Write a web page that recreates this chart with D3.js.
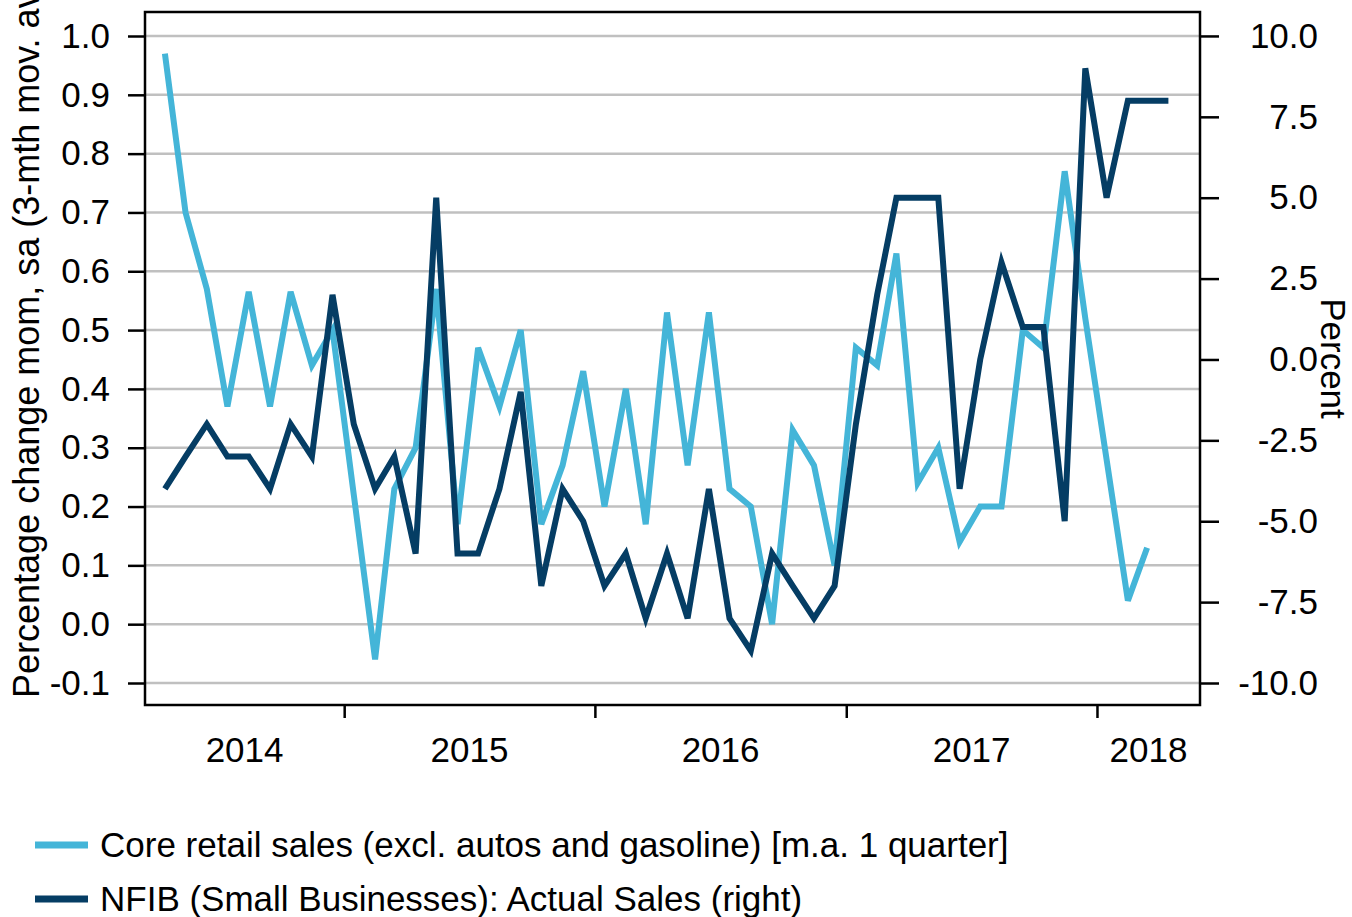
<!DOCTYPE html>
<html>
<head>
<meta charset="utf-8">
<script src="https://cdn.jsdelivr.net/npm/d3@7"></script>
<style>
  body { margin: 0; background: #fff; }
  text { font-family: "Liberation Sans", Arial, sans-serif; fill: #000; }
</style>
</head>
<body>
<div id="chart"></div>
<script>
// monthly observations, Apr 2014 .. Apr 2018 (plotted mid-month)
var firstMonth = new Date(2014, 3, 15),
    lastMonth = new Date(2018, 3, 15);

// core retail sales, % mom (left axis), Apr 2014 .. Mar 2018
var coreRetail = [0.97, 0.70, 0.57, 0.37, 0.565, 0.37, 0.565, 0.44, 0.50, 0.22,
                  -0.06, 0.23, 0.30, 0.57, 0.17, 0.47, 0.37, 0.50, 0.17, 0.27,
                  0.43, 0.20, 0.40, 0.17, 0.53, 0.27, 0.53, 0.23, 0.20, 0.00,
                  0.33, 0.27, 0.10, 0.47, 0.44, 0.63, 0.24, 0.30, 0.14, 0.20,
                  0.20, 0.50, 0.47, 0.77, 0.52, 0.28, 0.04, 0.13];

// NFIB actual sales, percent (right axis), Apr 2014 .. Apr 2018
var nfibSales = [-4, -3, -2, -3, -3, -4, -2, -3, 2, -2,
                 -4, -3, -6, 5, -6, -6, -4, -1, -7, -4,
                 -5, -7, -6, -8, -6, -8, -4, -8, -9, -6,
                 -7, -8, -7, -2, 2, 5, 5, 5, -4, 0,
                 3, 1, 1, -5, 9, 5, 8, 8, 8];

var leftTicks = [-0.1, 0, 0.1, 0.2, 0.3, 0.4, 0.5, 0.6, 0.7, 0.8, 0.9, 1.0];
var rightTicks = [-10, -7.5, -5, -2.5, 0, 2.5, 5, 7.5, 10];
var yearLabels = ["2014", "2015", "2016", "2017", "2018"];

var legendNames = ["Core retail sales (excl. autos and gasoline) [m.a. 1 quarter]",
                   "NFIB (Small Businesses): Actual Sales (right)"];
var colors = ["#44b5d8", "#053d64"];

var W = 1352, H = 917;
var margin = {top: 12, right: 152, bottom: 212, left: 145},
    width = W - margin.left - margin.right,
    height = H - margin.top - margin.bottom;

var months = d3.timeMonth.range(d3.timeMonth.floor(firstMonth), d3.timeMonth.offset(lastMonth, 1))
    .map(function (d) { return d3.timeDay.offset(d, 14); });

var svg = d3.select("#chart").append("svg")
    .attr("width", W)
    .attr("height", H);

svg.append("rect").attr("width", W).attr("height", H).attr("fill", "#fff");

var g = svg.append("g")
    .attr("transform", "translate(" + margin.left + "," + margin.top + ")");

var x = d3.scaleTime()
    .domain([new Date(2014, 2, 17), new Date(2018, 4, 31)])
    .range([0, width]);

var yL = d3.scaleLinear()
    .domain([-0.1374, 1.0408])
    .range([height, 0]);

var yR = d3.scaleLinear()
    .domain([-10.68, 10.74])
    .range([height, 0]);

// grid
g.append("g").selectAll("line")
    .data(leftTicks)
    .enter().append("line")
    .attr("x1", 0).attr("x2", width)
    .attr("y1", function (d) { return yL(d); })
    .attr("y2", function (d) { return yL(d); })
    .attr("stroke", "#c0c0c0")
    .attr("stroke-width", 2.5);

// left axis
var axL = g.append("g")
    .call(d3.axisLeft(yL).tickValues(leftTicks).tickSize(17).tickPadding(18)
        .tickFormat(function (d) { return d.toFixed(1); }));

// right axis
var axR = g.append("g")
    .attr("transform", "translate(" + width + ",0)")
    .call(d3.axisRight(yR).tickValues(rightTicks).tickSize(19)
        .tickFormat(function (d) { return d.toFixed(1); }));
axR.selectAll("text").attr("x", 118).attr("text-anchor", "end");

// bottom axis: year boundaries
var yearStarts = yearLabels.slice(1).map(function (y) { return new Date(+y, 0, 1); });
var axB = g.append("g")
    .attr("transform", "translate(0," + height + ")")
    .call(d3.axisBottom(x).tickValues(yearStarts).tickSize(13).tickFormat(""));

[axL, axR, axB].forEach(function (a) {
    a.select(".domain").remove();
    a.selectAll(".tick line").attr("stroke", "#000").attr("stroke-width", 2.5);
    a.selectAll("text").style("font-size", "35px").attr("fill", "#000");
});

// year labels centred in the visible part of each year
g.append("g").selectAll("text")
    .data(yearLabels)
    .enter().append("text")
    .attr("x", function (d) {
        var a = Math.max(x(new Date(+d, 0, 1)), 0),
            b = Math.min(x(new Date(+d + 1, 0, 1)), width);
        return (a + b) / 2;
    })
    .attr("y", height + 57)
    .attr("text-anchor", "middle")
    .style("font-size", "35px")
    .text(function (d) { return d; });

// lines
var lineL = d3.line()
    .x(function (d, i) { return x(months[i]); })
    .y(function (d) { return yL(d); });

var lineR = d3.line()
    .x(function (d, i) { return x(months[i]); })
    .y(function (d) { return yR(d); });

g.append("path")
    .datum(coreRetail)
    .attr("d", lineL)
    .attr("fill", "none")
    .attr("stroke", colors[0])
    .attr("stroke-width", 6);

g.append("path")
    .datum(nfibSales)
    .attr("d", lineR)
    .attr("fill", "none")
    .attr("stroke", colors[1])
    .attr("stroke-width", 6);

// frame
g.append("rect")
    .attr("width", width).attr("height", height)
    .attr("fill", "none")
    .attr("stroke", "#000")
    .attr("stroke-width", 2.5);

// axis titles (the left one runs off the top, as in the source)
svg.append("text")
    .attr("transform", "translate(39,698) rotate(-90)")
    .style("font-size", "36px")
    .text("Percentage change mom, sa (3-mth mov. avg.)");

svg.append("text")
    .attr("transform", "translate(1321," + (margin.top + height / 2) + ") rotate(90)")
    .attr("text-anchor", "middle")
    .style("font-size", "35px")
    .text("Percent");

// legend
var leg = svg.append("g").selectAll("g")
    .data(legendNames)
    .enter().append("g")
    .attr("transform", function (d, i) { return "translate(35," + (845 + i * 54) + ")"; });

leg.append("line")
    .attr("x1", 0).attr("x2", 53)
    .attr("stroke", function (d, i) { return colors[i]; })
    .attr("stroke-width", 7);

leg.append("text")
    .attr("x", 65)
    .attr("y", 12)
    .style("font-size", "35px")
    .text(function (d) { return d; });
</script>
</body>
</html>
